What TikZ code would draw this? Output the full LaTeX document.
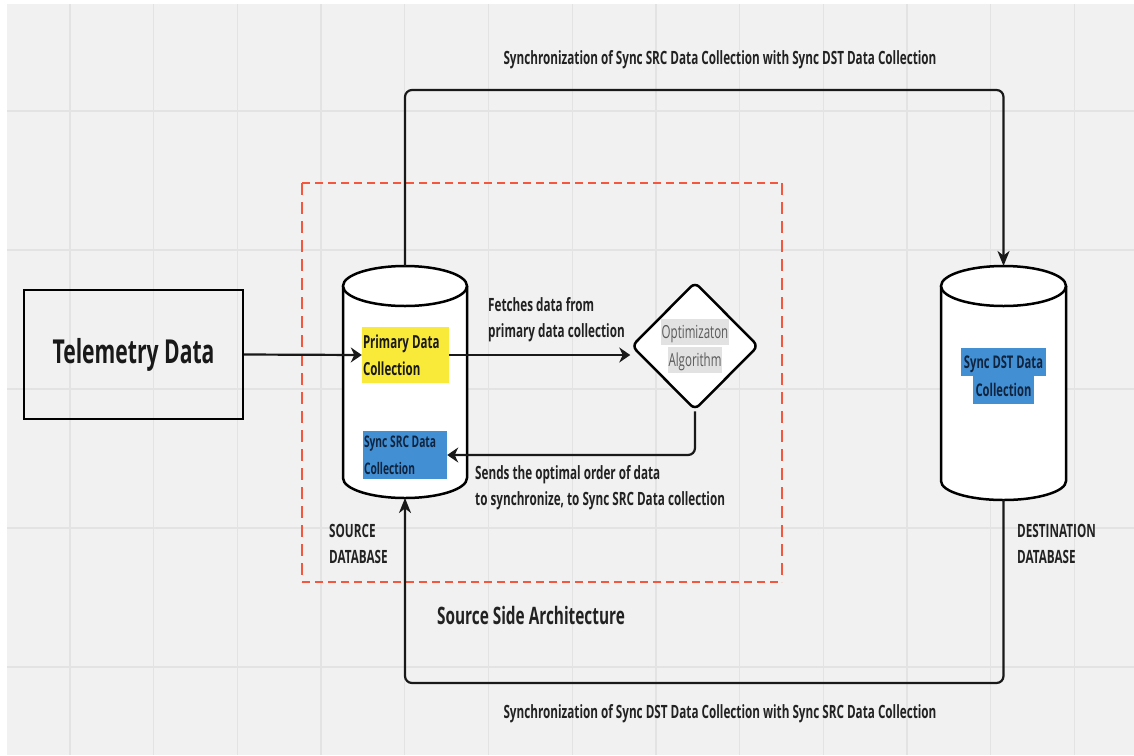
\documentclass[tikz,border=0pt]{standalone}
\usepackage{fontspec}
\setmainfont{Open Sans}[FakeStretch=0.64]
\usetikzlibrary{shapes.geometric,arrows.meta}

\definecolor{bggrey}{HTML}{F1F1F1}
\definecolor{gridgrey}{HTML}{E3E3E3}
\definecolor{dashred}{HTML}{F4573D}
\definecolor{primyellow}{HTML}{F9EA3A}
\definecolor{syncblue}{HTML}{4290D3}
\definecolor{navytext}{HTML}{10243F}
\definecolor{hlgrey}{HTML}{E2E2E2}
\definecolor{algtext}{HTML}{5A5A5A}
\definecolor{inktext}{HTML}{222222}

% per-line highlight boxes
\newcommand\algline[1]{{\setlength{\fboxsep}{0pt}\colorbox{hlgrey}{\hspace{1pt}\rule[-7pt]{0pt}{26pt}#1\hspace{1pt}}}}
\newcommand\dstline[1]{{\setlength{\fboxsep}{0pt}\colorbox{syncblue}{\hspace{3pt}\rule[-7.5pt]{0pt}{28pt}#1\hspace{3pt}}}}

\begin{document}
\begin{tikzpicture}[x=1pt,y=-1pt,
  conn/.style={line width=2.2pt, draw=black!90},
  harrow/.style={-{Stealth[length=11pt,width=15pt,inset=3.5pt]}},
  varrow/.style={-{Stealth[length=15pt,width=12pt,inset=4.5pt]}},
  cylline/.style={line width=2.5pt, draw=black},
  gridline/.style={line width=1.3pt, draw=gridgrey},
  hdash/.style={line width=2.6pt, draw=dashred, dash pattern=on 8pt off 5pt},
  vdash/.style={line width=2.6pt, draw=dashred, dash pattern=on 12pt off 7pt},
  lbl/.style={font=\bfseries\fontsize{18.3}{26}\selectfont, text=inktext, inner sep=0pt, align=flush left},
  dbanchor/.style={minimum width=124pt, inner sep=0pt, outer sep=0pt},
]
\useasboundingbox (0,0) rectangle (1134,755);
\fill[white] (0,0) rectangle (1134,755);
\fill[bggrey] (7,4) rectangle (1134,755);

% background grid
\foreach \i in {0,...,12}
  \draw[gridline] ({70+83.7*\i},4) -- ({70+83.7*\i},755);
\foreach \j in {0,...,4}
  \draw[gridline] (7,{111+139*\j}) -- (1134,{111+139*\j});

% source side boundary
\coordinate (ssa-nw) at (302,183);
\coordinate (ssa-se) at (782,582);
\draw[hdash] (ssa-nw) -- (ssa-nw -| ssa-se);
\draw[hdash] (ssa-nw |- ssa-se) -- (ssa-se);
\draw[vdash] (ssa-nw) -- (ssa-nw |- ssa-se);
\draw[vdash] (ssa-nw -| ssa-se) -- (ssa-se);

% telemetry source
\node[draw=black, line width=2pt, minimum width=219pt, minimum height=129pt, inner sep=0pt,
      font=\bfseries\fontsize{33}{40}\selectfont, text=black!90] (tel) at (133.5,354.5) {Telemetry Data};

% source database cylinder
\node[dbanchor, minimum height=232pt] (src) at (405,382) {};
\fill[white] (343,286) -- (343,478) .. controls (343,489) and (370.8,498) .. (405,498)
  .. controls (439.2,498) and (467,489) .. (467,478) -- (467,286) -- cycle;
\draw[cylline] (343,286) -- (343,478) .. controls (343,489) and (370.8,498) .. (405,498)
  .. controls (439.2,498) and (467,489) .. (467,478) -- (467,286);
\filldraw[cylline, fill=white] (405,286) ellipse [x radius=62, y radius=20];

% destination database cylinder
\node[dbanchor, minimum width=125pt, minimum height=234pt] (dst) at (1003.5,383) {};
\fill[white] (941,286) -- (941,481) .. controls (941,491.5) and (969,500) .. (1003.5,500)
  .. controls (1038,500) and (1066,491.5) .. (1066,481) -- (1066,286) -- cycle;
\draw[cylline] (941,286) -- (941,481) .. controls (941,491.5) and (969,500) .. (1003.5,500)
  .. controls (1038,500) and (1066,491.5) .. (1066,481) -- (1066,286);
\filldraw[cylline, fill=white] (1003.5,286) ellipse [x radius=62.5, y radius=20];

% collections inside the databases
\node[fill=primyellow, minimum width=87pt, minimum height=56pt, inner sep=0pt, text width=85pt,
      align=flush left, text=black!90, font=\bfseries\fontsize{18}{27}\selectfont] (prim) at (405.5,355)
      {Primary Data\\Collection};
\node[fill=syncblue, minimum width=84pt, minimum height=48pt, inner sep=0pt, text width=82pt,
      align=flush left, text=navytext, font=\bfseries\fontsize{16}{27}\selectfont] (ssrc) at (405,455)
      {Sync SRC Data\\Collection};
\node[inner sep=0pt, align=center, text=navytext, font=\bfseries\fontsize{17.5}{28}\selectfont] (sdst)
      at (1003.5,376) {\dstline{Sync DST Data}\\\dstline{Collection}};

% optimisation step
\node[diamond, draw=black, line width=2.5pt, fill=white, rounded corners=6pt, inner sep=0pt,
      minimum width=127pt, minimum height=128pt, align=center, text=algtext,
      font=\fontsize{18}{28}\selectfont] (dia) at (695,346)
      {\algline{Optimizaton}\\\algline{Algorithm}};

% connectors
\draw[conn, harrow] (tel.east) -- (prim.west);
\draw[conn, harrow] (prim.east) -- (prim.east -| dia.west);
\draw[conn, harrow, rounded corners=7pt] (dia.south) |- (ssrc.east);
\draw[conn, varrow, rounded corners=7pt] (src.north) -- ++(0,-176) -| (dst.north);
\draw[conn, varrow, rounded corners=7pt] (dst.south) -- ++(0,183) -| (src.south);

% labels
\node[lbl, anchor=west] (fetch) at (488,320) {Fetches data from\\primary data collection};
\node[lbl, anchor=west] (sends) at (475,488) {Sends the optimal order of data\\to synchronize, to Sync SRC Data collection};
\node[lbl, anchor=west] (srcname) at (329,544) {SOURCE\\DATABASE};
\node[lbl, anchor=west] (dstname) at (1017,544) {DESTINATION\\DATABASE};
\node[lbl, font=\bfseries\fontsize{24}{28}\selectfont] (ssatitle) at (531,615) {Source Side Architecture};
\node[lbl] (synctop) at (720,60) {Synchronization of Sync SRC Data Collection with Sync DST Data Collection};
\node[lbl] (syncbot) at (720,714) {Synchronization of Sync DST Data Collection with Sync SRC Data Collection};
\end{tikzpicture}
\end{document}
